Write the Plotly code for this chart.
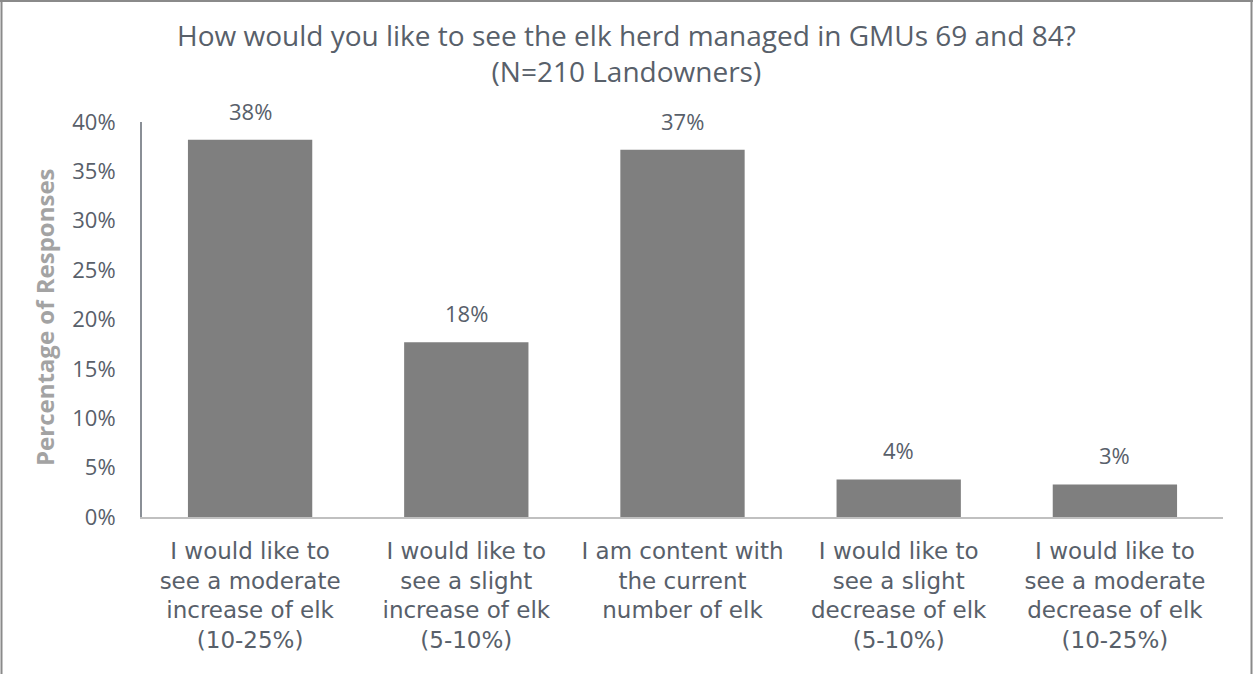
import plotly.graph_objects as go

categories = [
    "I would like to<br>see a moderate<br>increase of elk<br>(10-25%)",
    "I would like to<br>see a slight<br>increase of elk<br>(5-10%)",
    "I am content with<br>the current<br>number of elk",
    "I would like to<br>see a slight<br>decrease of elk<br>(5-10%)",
    "I would like to<br>see a moderate<br>decrease of elk<br>(10-25%)",
]
values = [0.382, 0.177, 0.372, 0.038, 0.033]
labels = ["38%", "18%", "37%", "4%", "3%"]
tick_vals = [0, 0.05, 0.10, 0.15, 0.20, 0.25, 0.30, 0.35, 0.40]
tick_text = ["0%", "5%", "10%", "15%", "20%", "25%", "30%", "35%", "40%"]
title_text = "How would you like to see the elk herd managed in GMUs 69 and 84?<br>(N=210 Landowners)"
y_title = "Percentage of Responses"

W, H = 1253, 674
ML, MR, MT, MB = 142, 30, 122, 157
PW, PH = W - ML - MR, H - MT - MB

FONT = "Open Sans"
CAT_FONT = "DejaVu Sans"
TXT = "#58606a"

xs = list(range(len(categories)))

fig = go.Figure(go.Bar(
    x=xs,
    y=values,
    marker=dict(color="#7f7f7f", line=dict(width=0)),
    cliponaxis=False,
))


def px_x(p):
    return (p - ML) / PW


def px_y(p):
    return (H - MB - p) / PH


shapes = [
    dict(type="line", xref="paper", yref="paper", x0=px_x(1.5), x1=px_x(1.5), y0=px_y(0), y1=px_y(H + 5),
         line=dict(color="#8a8a8a", width=2)),
    dict(type="line", xref="paper", yref="paper", x0=px_x(1251.5), x1=px_x(1251.5), y0=px_y(0), y1=px_y(H + 5),
         line=dict(color="#8a8a8a", width=2)),
    dict(type="line", xref="paper", yref="paper", x0=px_x(0), x1=px_x(W), y0=px_y(1), y1=px_y(1),
         line=dict(color="#8a8a8a", width=2)),
]

annotations = [
    dict(x=x, y=v, xref="x", yref="y", text=t, showarrow=False,
         xanchor="center", yanchor="bottom", yshift=12,
         font=dict(family=FONT, size=22, color=TXT))
    for x, v, t in zip(xs, values, labels)
]
annotations.append(dict(
    text="<b>" + y_title + "</b>",
    xref="paper", yref="paper",
    x=px_x(44), y=px_y(317),
    xanchor="center", yanchor="middle",
    textangle=-90, showarrow=False,
    font=dict(family=FONT, size=24, color="#a3a3a3"),
))
annotations.append(dict(
    text=title_text,
    xref="paper", yref="paper",
    x=px_x(W / 2), y=px_y(14),
    xanchor="center", yanchor="top",
    showarrow=False,
    font=dict(family=FONT, size=28, color=TXT),
))

fig.update_layout(
    width=W, height=H,
    margin=dict(l=ML, r=MR, t=MT, b=MB),
    paper_bgcolor="white", plot_bgcolor="white",
    bargap=0.425,
    showlegend=False,
    xaxis=dict(
        tickmode="array",
        tickvals=xs,
        ticktext=categories,
        range=[-0.5, len(categories) - 0.5],
        showline=True, linecolor="#c0c0c0", linewidth=2,
        showgrid=False, zeroline=False, ticks="",
        tickfont=dict(family=CAT_FONT, size=23, color=TXT),
        ticklabelstandoff=12,
        tickangle=0,
        automargin=False,
    ),
    yaxis=dict(
        range=[0, 0.4],
        tickmode="array", tickvals=tick_vals, ticktext=tick_text,
        showline=True, linecolor="#8a8f96", linewidth=2,
        showgrid=False, zeroline=False, ticks="",
        tickfont=dict(family=FONT, size=22, color=TXT),
        ticklabelstandoff=20,
        automargin=False,
    ),
    annotations=annotations,
    shapes=shapes,
)

fig.write_html("out.html")
